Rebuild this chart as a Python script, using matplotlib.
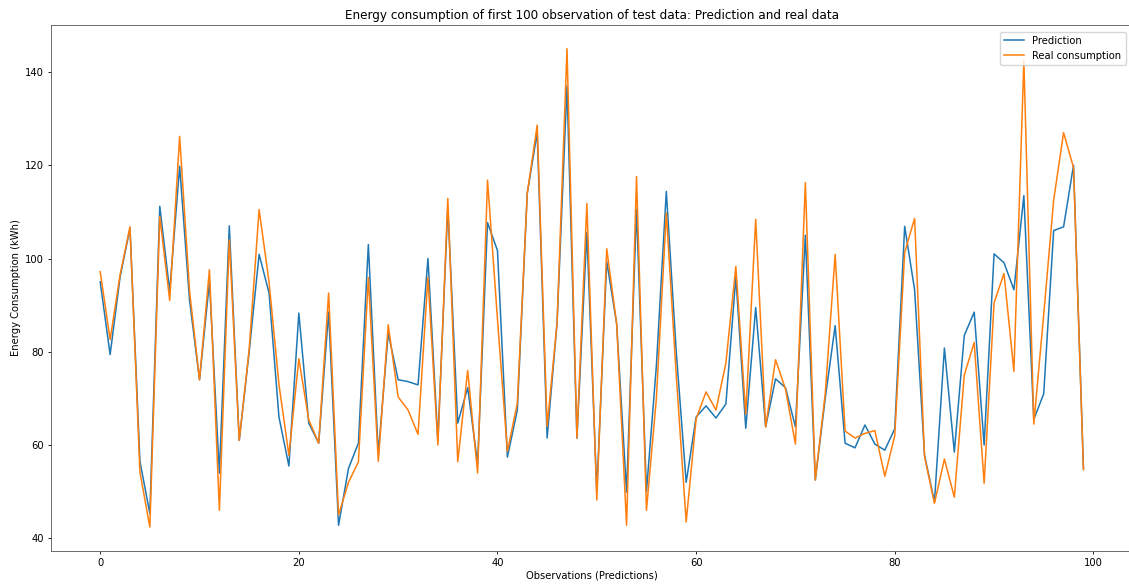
import matplotlib
matplotlib.use("Agg")
import numpy as np
import matplotlib.pyplot as plt

# valores (primeras 100 observaciones)
observaciones = np.arange(100)

prediccion = [
    95, 79.4, 96, 106.5, 56.5, 45.3, 111.2, 93, 119.8, 91,
    74, 95, 54, 107, 61, 80, 100.9, 92.6, 66, 55.5,
    88.3, 64.7, 60.4, 88.5, 42.8, 55, 60.4, 103, 58, 84,
    74, 73.6, 72.9, 100, 61, 111, 64.7, 72.3, 56, 107.7,
    101.7, 57.4, 67.5, 114, 127, 61.5, 86.2, 137, 61.5, 105.6,
    50, 99.4, 86, 49.9, 110.5, 50, 77, 114.4, 80, 52,
    66, 68.4, 65.8, 68.8, 96, 63.6, 89.5, 63.9, 74.2, 72.3,
    63.9, 105, 52.5, 70, 85.6, 60.4, 59.4, 64.3, 60.2, 58.9,
    63.5, 106.9, 93.3, 57.8, 47.8, 80.8, 58.5, 83.5, 88.5, 60,
    101, 99.1, 93.3, 113.5, 65.5, 71, 106, 106.8, 120, 55,
]

consumo_real = [
    97.2, 82.6, 96.5, 106.8, 54.2, 42.4, 109, 91, 126.2, 93,
    74, 97.6, 46, 104, 61, 80.5, 110.5, 95, 73, 57.8,
    78.5, 65.4, 60.4, 92.6, 45, 52, 56.4, 95.9, 56.5, 85.8,
    70.3, 67.5, 62.3, 96, 60, 112.9, 56.4, 76, 54, 116.8,
    87, 58.6, 69, 114, 128.6, 64, 86.2, 145, 61.5, 111.8,
    48.2, 102.1, 86, 42.8, 117.6, 46, 70, 109.8, 75, 43.5,
    65.6, 71.4, 67.5, 77.6, 98.3, 66.6, 108.4, 63.9, 78.3, 72,
    60.2, 116.3, 52.5, 71, 100.9, 63, 61.5, 62.5, 63.1, 53.3,
    62, 101.3, 108.6, 57.5, 47.5, 57, 48.8, 75, 82, 51.8,
    90.5, 96.8, 75.8, 142.4, 64.5, 88, 112.5, 127, 119.5, 54.7,
]

fs = 7.2

fig = plt.figure(figsize=(11.29, 5.86), dpi=100)
ax = fig.add_axes([0.0452, 0.0597, 0.958, 0.898])

ax.plot(observaciones, prediccion, label="Prediction", lw=1.1)
ax.plot(observaciones, consumo_real, label="Real consumption", lw=1.1)

ax.set_title("Energy consumption of first 100 observation of test data: Prediction and real data",
             fontsize=fs * 1.2, pad=4)
ax.set_xlabel("Observations (Predictions)", fontsize=fs, labelpad=2)
ax.set_ylabel("Energy Consumption (kWh)", fontsize=fs, labelpad=3)
ax.tick_params(labelsize=fs, length=2.5, width=0.6, pad=2.5)
for s in ax.spines.values():
    s.set_linewidth(0.6)
    s.set_color("#555555")

ax.legend(loc="upper right", fontsize=fs, borderaxespad=0.7, handlelength=2.0)

fig.savefig("out.png", dpi=100)
plt.close()
